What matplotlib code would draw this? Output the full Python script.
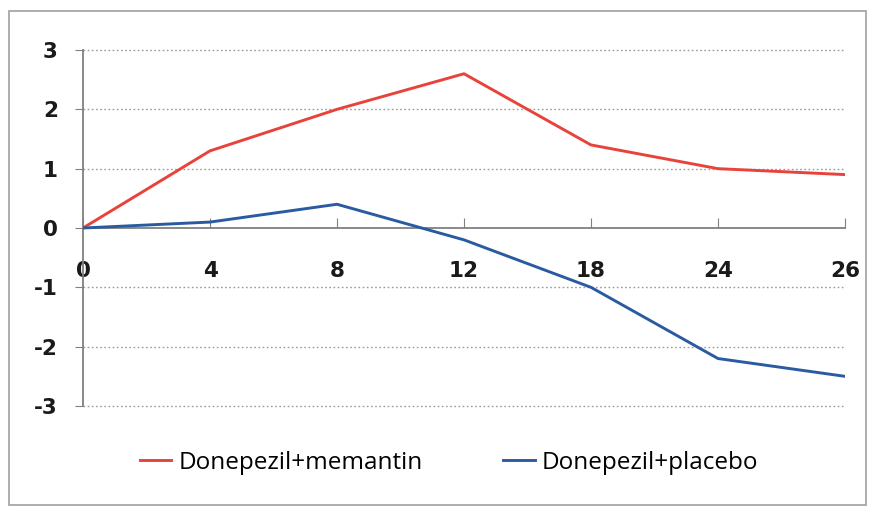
import matplotlib
matplotlib.use("Agg")
import matplotlib.pyplot as plt
from matplotlib.patches import Rectangle

weeks = ["0", "4", "8", "12", "18", "24", "26"]
memantin = [0, 1.3, 2.0, 2.6, 1.4, 1.0, 0.9]
placebo = [0, 0.1, 0.4, -0.2, -1.0, -2.2, -2.5]
series_names = ["Donepezil+memantin", "Donepezil+placebo"]
y_ticks = [3, 2, 1, 0, -1, -2, -3]

W, H = 874, 513
fig = plt.figure(figsize=(W / 100, H / 100), dpi=100)
fig.patches.append(Rectangle((9 / W, 1 - 505 / H), (866 - 9) / W, (505 - 11) / H,
                             transform=fig.transFigure, fill=False,
                             edgecolor="#a0a0a0", linewidth=1.2))

ax = fig.add_axes([83 / W, 1 - 406 / H, (845 - 83) / W, (406 - 50) / H])
x = list(range(len(weeks)))
l1, = ax.plot(x, memantin, color="#e8433b", lw=2.1, label=series_names[0], zorder=3)
l2, = ax.plot(x, placebo, color="#2a5ba0", lw=2.1, label=series_names[1], zorder=3)

ax.set_xlim(0, len(weeks) - 1)
ax.set_ylim(-3, 3)
for s in ["top", "right"]:
    ax.spines[s].set_visible(False)
ax.spines["bottom"].set_position(("data", 0))
for s in ["left", "bottom"]:
    ax.spines[s].set_color("#808080")
    ax.spines[s].set_linewidth(1.3)

ax.set_yticks(y_ticks)
ax.set_yticklabels([str(v) for v in y_ticks])
ax.set_xticks(x)
ax.set_xticklabels(weeks)
for v in y_ticks:
    if v != 0:
        ax.axhline(v, color="#9a9a9a", lw=1.0, ls=(0, (1.2, 1.8)), zorder=1,
                   clip_on=False)

ax.tick_params(axis="y", direction="out", length=6, color="#808080", pad=12,
               labelsize=15.5)
ax.tick_params(axis="x", direction="in", length=7, color="#808080", pad=24,
               labelsize=15.5)
for lab in ax.get_xticklabels() + ax.get_yticklabels():
    lab.set_fontweight("bold")
    lab.set_color("#1a1a1a")

fig.legend(handles=[l1, l2], loc="center", bbox_to_anchor=(449 / W, 1 - 463 / H),
           ncol=2, frameon=False, handlelength=1.3, handletextpad=0.3,
           columnspacing=3.3, prop={"family": "Open Sans", "size": 17.5})

fig.savefig("out.png", dpi=100, facecolor="white")
